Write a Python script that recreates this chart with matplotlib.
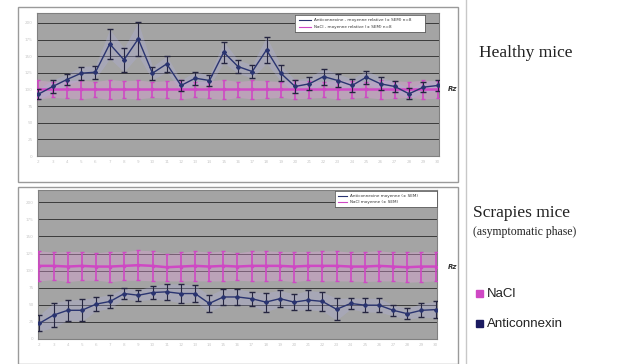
import matplotlib.pyplot as plt
import numpy as np
from matplotlib.patches import Rectangle
from matplotlib.lines import Line2D

days = list(range(2, 31))

# healthy mice (NaCl normalised to 100)
healthy_ac = [93, 104.5, 115, 124.5, 126, 168.5, 144.5, 176, 124.5, 138.5, 106, 117, 113.5,
              156, 134.5, 127, 159.5, 124.5, 104.5, 108.5, 119.5, 113.5, 106, 118.5, 108.5,
              104.5, 93.5, 103.5, 106]
healthy_ac_err = [8, 10, 8, 10, 10, 22, 18, 25, 10, 12, 8, 10, 8,
                  16, 10, 10, 20, 12, 10, 10, 12, 10, 10, 10, 10,
                  8, 8, 8, 8]
healthy_nacl = [100] * 29
healthy_nacl_err = [14, 12, 13, 14, 12, 15, 13, 14, 12, 13, 14, 12, 13,
                    15, 12, 14, 13, 12, 14, 13, 12, 14, 13, 12, 14,
                    13, 12, 14, 13]

# scrapie mice, asymptomatic phase
scrapie_ac = [23, 35, 42, 42, 51, 55, 66.5, 64, 68, 69, 66.5, 66.5, 52,
              61.5, 61.5, 59, 54, 59, 54, 57, 55, 43.5, 52, 49.5, 49.5,
              42, 37, 42, 43]
scrapie_ac_err = [12, 18, 15, 16, 10, 10, 8, 8, 10, 12, 14, 12, 12,
                  12, 12, 10, 14, 12, 12, 14, 14, 16, 8, 10, 10,
                  8, 8, 10, 12]
scrapie_nacl = [107, 107, 106, 107, 106, 106, 107, 108, 107, 105, 106, 107, 106,
                107, 106, 107, 107, 107, 106, 107, 107, 107, 106, 106, 107,
                106, 105, 106, 106]
scrapie_nacl_err = [22, 20, 22, 21, 20, 22, 21, 22, 22, 20, 21, 22, 21,
                    22, 20, 22, 22, 21, 22, 21, 22, 22, 21, 22, 22,
                    21, 22, 22, 21]

legend_top = ["Anticonnexine - moyenne relative (± SEM) n=8", "NaCl - moyenne relative (± SEM) n=8"]
legend_bot = ["Anticonnexine moyenne (± SEM)", "NaCl moyenne (± SEM)"]

navy = '#2a3470'
magenta = '#cf48c4'

fig = plt.figure(figsize=(6.28, 3.64), dpi=100)

# panel frames
fig.patches.append(Rectangle((18 / 628, 1 - 182 / 364), 440 / 628, 175 / 364,
                             transform=fig.transFigure, fill=False, ec='#9a9a9a', lw=1))
fig.patches.append(Rectangle((18 / 628, 1 - 364 / 364), 440 / 628, 177 / 364,
                             transform=fig.transFigure, fill=False, ec='#9a9a9a', lw=1))
fig.add_artist(Line2D([466 / 628, 466 / 628], [0, 1], color='#c8c8c8', lw=1))


def panel(rect, ac, ac_err, nacl, nacl_err, ymax, labels, leg_rect):
    ax = fig.add_axes(rect)
    ax.set_facecolor('#a4a4a4')
    x = np.array(days)
    ac = np.array(ac)
    nacl = np.array(nacl)
    ax.fill_between(x, nacl - np.array(nacl_err), nacl + np.array(nacl_err),
                    color='#e8a0e0', alpha=0.35, lw=0)
    ax.fill_between(x, ac - np.array(ac_err), ac + np.array(ac_err),
                    color='#b0b0e0', alpha=0.3, lw=0)
    ax.errorbar(x, nacl, yerr=nacl_err, color=magenta, lw=1.8, ecolor=magenta,
                elinewidth=1.2, capsize=1.5, marker='s', ms=2, zorder=3)
    ax.errorbar(x, ac, yerr=ac_err, color=navy, lw=1.0, ecolor='#252540',
                elinewidth=0.8, capsize=2.5, marker='D', ms=2, zorder=4)
    ax.set_xlim(days[0] - 0.1, days[-1] + 0.1)
    ax.set_ylim(0, ymax)
    ax.set_yticks(np.arange(0, ymax, 25))
    ax.set_xticks(days)
    ax.yaxis.grid(True, color='#3a3a3a', lw=0.7)
    ax.set_axisbelow(True)
    ax.tick_params(labelsize=3, colors='#c8c8c8', length=0, pad=3)
    for s in ax.spines.values():
        s.set_color('#808080')
        s.set_linewidth(0.8)
    lax = fig.add_axes(leg_rect)
    lax.set_xlim(0, 1)
    lax.set_ylim(0, 1)
    lax.set_xticks([])
    lax.set_yticks([])
    for s in lax.spines.values():
        s.set_color('#606060')
        s.set_linewidth(0.6)
    lax.plot([0.03, 0.12], [0.7, 0.7], color=navy, lw=0.8)
    lax.plot([0.03, 0.12], [0.3, 0.3], color=magenta, lw=0.8)
    lax.text(0.15, 0.7, labels[0], fontsize=3, va='center', color='#333333')
    lax.text(0.15, 0.3, labels[1], fontsize=3, va='center', color='#333333')
    return ax


panel([37 / 628, 1 - 156 / 364, 402 / 628, 143 / 364],
      healthy_ac, healthy_ac_err, healthy_nacl, healthy_nacl_err, 215, legend_top,
      [295 / 628, 1 - 32 / 364, 130 / 628, 17 / 364])
panel([38 / 628, 1 - 339 / 364, 399 / 628, 149 / 364],
      scrapie_ac, scrapie_ac_err, scrapie_nacl, scrapie_nacl_err, 218, legend_bot,
      [335 / 628, 1 - 207 / 364, 102 / 628, 16 / 364])

fig.text(448 / 628, 1 - 89 / 364, 'Rz', fontsize=5, style='italic', weight='bold',
         color='#333333', va='center')
fig.text(448 / 628, 1 - 267 / 364, 'Rz', fontsize=5, style='italic', weight='bold',
         color='#333333', va='center')

fig.text(479 / 628, 1 - 57 / 364, 'Healthy mice', family='Liberation Serif',
         fontsize=12.5, color='#222222', va='baseline')
fig.text(473 / 628, 1 - 217 / 364, 'Scrapies mice', family='Liberation Serif',
         fontsize=12.5, color='#222222', va='baseline')
fig.text(473 / 628, 1 - 235 / 364, '(asymptomatic phase)', family='Liberation Serif',
         fontsize=8.5, color='#222222', va='baseline')

fig.patches.append(Rectangle((476 / 628, 1 - 297 / 364), 7 / 628, 7 / 364,
                             transform=fig.transFigure, color=magenta))
fig.patches.append(Rectangle((476 / 628, 1 - 327 / 364), 7 / 628, 7 / 364,
                             transform=fig.transFigure, color='#1a1a60'))
fig.text(487 / 628, 1 - 294 / 364, 'NaCl', family='Liberation Sans', fontsize=9.5,
         color='#222222', va='center')
fig.text(487 / 628, 1 - 324 / 364, 'Anticonnexin', family='Liberation Sans', fontsize=9.5,
         color='#222222', va='center')

fig.savefig('out.png', dpi=100)
